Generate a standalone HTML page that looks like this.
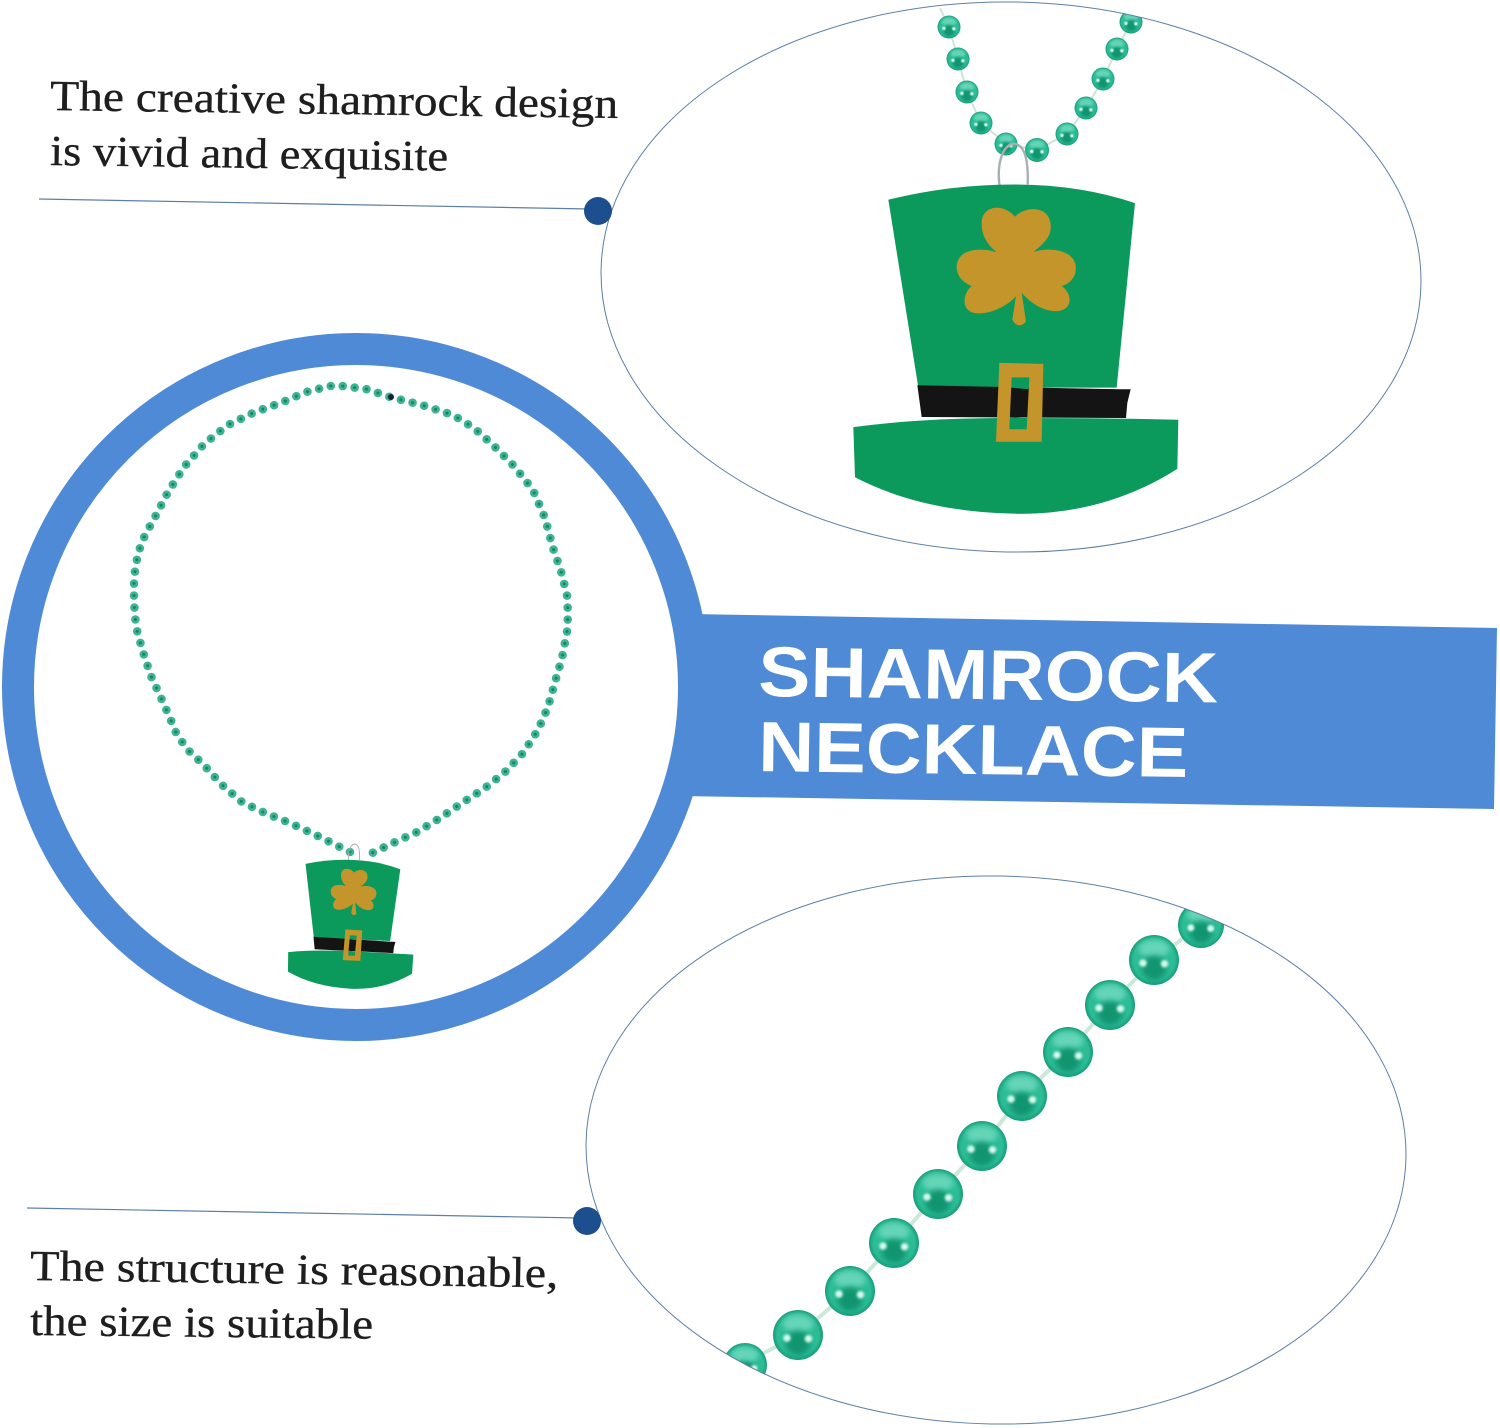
<!DOCTYPE html>
<html lang="en">
<head>
<meta charset="utf-8">
<title>Shamrock Necklace</title>
<style>
html,body{margin:0;padding:0;background:#fff;width:1500px;height:1428px;overflow:hidden}
svg{display:block}
.cap{font-family:"Liberation Serif",serif;font-size:43px;fill:#1e1e1e;stroke:#1e1e1e;stroke-width:.35}
.ttl{font-family:"Liberation Sans",sans-serif;font-weight:bold;font-size:71px;fill:#fff}
</style>
</head>
<body>
<svg xmlns="http://www.w3.org/2000/svg" width="1500" height="1428" viewBox="0 0 1500 1428">
<defs>
  <radialGradient id="b" cx="50%" cy="50%" r="50%">
    <stop offset="0" stop-color="#27bb94"/>
    <stop offset=".82" stop-color="#2cbd97"/>
    <stop offset="1" stop-color="#179c78"/>
  </radialGradient>
  <filter id="s1" x="-30%" y="-30%" width="160%" height="160%"><feGaussianBlur stdDeviation=".11"/></filter>
  <filter id="s2" x="-30%" y="-30%" width="160%" height="160%"><feGaussianBlur stdDeviation=".05"/></filter>
  <clipPath id="u"><circle r="1"/></clipPath>
  <g id="bd">
    <circle r="1" fill="url(#b)"/>
    <g clip-path="url(#u)">
      <ellipse cx="0" cy="-.45" rx=".62" ry=".36" fill="#7fdfc6" opacity=".7" filter="url(#s1)"/>
      <ellipse cx="0" cy=".32" rx=".5" ry=".5" fill="#0f8f6c" opacity=".85" filter="url(#s1)"/>
      <circle cx="-.44" cy=".12" r=".15" fill="#d8fbef" filter="url(#s2)"/>
      <circle cx=".42" cy=".15" r=".15" fill="#d8fbef" filter="url(#s2)"/>
    </g>
  </g>
  <clipPath id="c1"><ellipse cx="1011" cy="277" rx="410" ry="275" transform="rotate(1 1011 277)"/></clipPath>
  <clipPath id="c2"><ellipse cx="996" cy="1150" rx="410" ry="274" transform="rotate(1 996 1150)"/></clipPath>
  <g id="hat">
    <path d="M505 610C460 560 470 430 520 425C560 425 565 490 563 545" fill="none" stroke="#a9aeb0" stroke-width="7"/>
    <path d="M145 590Q330 545 520 545Q720 545 885 600L830 1145L235 1145Z" fill="#0c995c"/>
    <path d="M40 1262Q240 1235 500 1235Q800 1235 1015 1240L1012 1385Q800 1518 540 1518Q250 1515 45 1410Z" fill="#0c995c"/>
    <path d="M232 1138L840 1150L872 1150L862 1190L858 1235L245 1232Z" fill="#141414"/>
    <path d="M525 640C490 600 425 605 425 660C425 700 445 725 470 745C420 730 355 735 350 785C348 815 370 835 395 845C365 870 365 920 405 925C450 930 500 905 528 875L517 945Q535 975 558 950L545 865C575 900 620 925 660 918C700 910 695 865 665 845C700 835 712 805 706 780C695 735 620 730 580 745C610 720 635 700 632 665C630 610 560 605 525 640Z" fill="#c4952a"/>
    <path d="M515 1115L568 1115L565 1150L512 1145Z" fill="#0c995c"/>
    <path d="M510 1232L562 1236L560 1268L508 1268Z" fill="#0c995c"/>
    <path fill-rule="evenodd" d="M478 1072L610 1075L605 1305L468 1305ZM515 1115L508 1268L560 1268L568 1115Z" fill="#c4952a"/>
  </g>
</defs>

<rect width="1500" height="1428" fill="#fff"/>

<!-- band -->
<path d="M690 614L1497 628L1494 809L680 796Z" fill="#4f8ad6"/>
<!-- ring -->
<circle cx="356" cy="687" r="338" fill="#fff" stroke="#4f8ad6" stroke-width="32"/>

<!-- small necklace -->
<polyline points="350,852 320,837 290,823 265,813 242,802 221,784 203,764 189,751 177,735 170,718 162,700 151,676 143,652 136,627 134,602 134,577 138,553 145,535 154,519 168,492 184,467 204,444 228,425 255,412 283,402 306,392 330,386 342,386 366,389 390,397 422,405 453,415 474,428 493,445 514,466 533,490 545,518 553,548 561,571 567,595 568,614 567,632 562,658 555,682 548,707 538,730 523,753 505,772 485,788 462,803 440,818 417,832 393,843 370,854" fill="none" stroke="#3db394" stroke-width="8.6" stroke-linecap="round" stroke-dasharray="0 12"/>
<polyline points="350,852 320,837 290,823 265,813 242,802 221,784 203,764 189,751 177,735 170,718 162,700 151,676 143,652 136,627 134,602 134,577 138,553 145,535 154,519 168,492 184,467 204,444 228,425 255,412 283,402 306,392 330,386 342,386 366,389 390,397 422,405 453,415 474,428 493,445 514,466 533,490 545,518 553,548 561,571 567,595 568,614 567,632 562,658 555,682 548,707 538,730 523,753 505,772 485,788 462,803 440,818 417,832 393,843 370,854" fill="none" stroke="#128464" stroke-width="3" stroke-linecap="round" stroke-dasharray="0 12"/>
<circle cx="391" cy="397" r="3" fill="#123"/>
<use href="#hat" transform="rotate(2.5 352 950) matrix(.1283 0 0 .1323 283.2 787.9)"/>

<!-- top ellipse -->
<g clip-path="url(#c1)">
  <polyline points="940,8 949,27 958,59 967,92 981,123 1006,144 1037,150 1067,134 1086,108 1103,79 1117,49 1131,22" fill="none" stroke="#cfe3d8" stroke-width="2"/>
  <use href="#bd" transform="translate(949 27) scale(11.5)"/>
  <use href="#bd" transform="translate(958 59) scale(11.5)"/>
  <use href="#bd" transform="translate(967 92) scale(11.5)"/>
  <use href="#bd" transform="translate(981 123) scale(11.5)"/>
  <use href="#bd" transform="translate(1006 144) scale(11.5)"/>
  <use href="#bd" transform="translate(1037 150) scale(12)"/>
  <use href="#bd" transform="translate(1067 134) scale(11.5)"/>
  <use href="#bd" transform="translate(1086 108) scale(11.5)"/>
  <use href="#bd" transform="translate(1103 79) scale(11.5)"/>
  <use href="#bd" transform="translate(1117 49) scale(11.5)"/>
  <use href="#bd" transform="translate(1131 22) scale(11.5)"/>
  <use href="#hat" transform="translate(840 0) scale(.33333 .3385)"/>
</g>
<ellipse cx="1011" cy="277" rx="410" ry="275" transform="rotate(1 1011 277)" fill="none" stroke="#5d7fa6" stroke-width="1"/>

<!-- bottom ellipse -->
<g clip-path="url(#c2)">
  <polyline points="1201,925 1154,960 1110,1005 1068,1052 1022,1096 982,1146 938,1194 894,1243 850,1291 798,1335 745,1363" fill="none" stroke="#cde8da" stroke-width="4"/>
  <use href="#bd" transform="translate(1201 925) scale(23)"/>
  <use href="#bd" transform="translate(1154 960) scale(25)"/>
  <use href="#bd" transform="translate(1110 1005) scale(25)"/>
  <use href="#bd" transform="translate(1068 1052) scale(25)"/>
  <use href="#bd" transform="translate(1022 1096) scale(25)"/>
  <use href="#bd" transform="translate(982 1146) scale(25)"/>
  <use href="#bd" transform="translate(938 1194) scale(25)"/>
  <use href="#bd" transform="translate(894 1243) scale(25)"/>
  <use href="#bd" transform="translate(850 1291) scale(25)"/>
  <use href="#bd" transform="translate(798 1335) scale(25)"/>
  <use href="#bd" transform="translate(745 1365) scale(22)"/>
</g>
<ellipse cx="996" cy="1150" rx="410" ry="274" transform="rotate(1 996 1150)" fill="none" stroke="#5d7fa6" stroke-width="1"/>

<!-- connectors -->
<line x1="39" y1="199" x2="590" y2="209" stroke="#5d7fa6" stroke-width="1.2"/>
<circle cx="598" cy="211" r="14" fill="#1d4f8f"/>
<line x1="27" y1="1208" x2="580" y2="1218" stroke="#5d7fa6" stroke-width="1.2"/>
<circle cx="587" cy="1221" r="14" fill="#1d4f8f"/>

<!-- captions -->
<text class="cap" transform="translate(50 110) rotate(.8)" textLength="568" lengthAdjust="spacingAndGlyphs">The creative shamrock design</text>
<text class="cap" transform="translate(50 165) rotate(.8)" textLength="398" lengthAdjust="spacingAndGlyphs">is vivid and exquisite</text>
<text class="cap" transform="translate(30 1280) rotate(.8)" textLength="528" lengthAdjust="spacingAndGlyphs">The structure is reasonable,</text>
<text class="cap" transform="translate(30 1335) rotate(.6)" textLength="343" lengthAdjust="spacingAndGlyphs">the size is suitable</text>

<!-- title -->
<text class="ttl" transform="translate(758 696) rotate(.8)" textLength="460" lengthAdjust="spacingAndGlyphs">SHAMROCK</text>
<text class="ttl" transform="translate(758 771) rotate(.8)" textLength="430" lengthAdjust="spacingAndGlyphs">NECKLACE</text>
</svg>
</body>
</html>
